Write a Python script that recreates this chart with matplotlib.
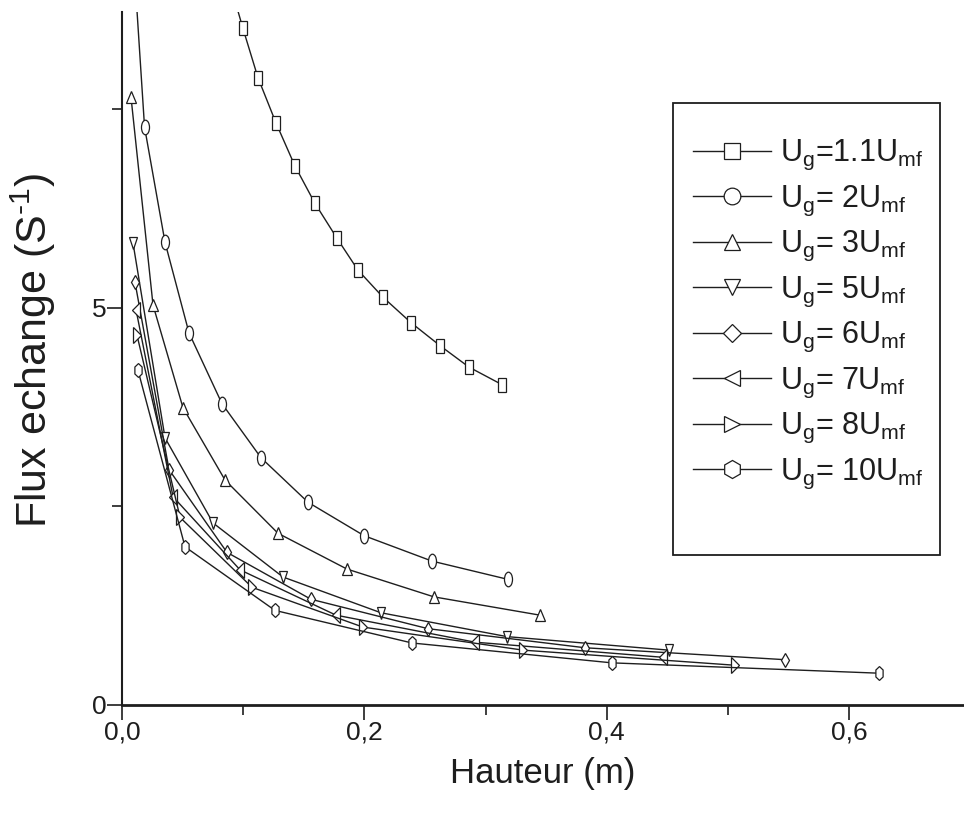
import matplotlib
matplotlib.use("Agg")
import matplotlib.pyplot as plt
from matplotlib.markers import MarkerStyle
from matplotlib.transforms import Affine2D
from matplotlib.lines import Line2D
from matplotlib.patches import Rectangle
from matplotlib.ticker import MultipleLocator, FuncFormatter

plt.rcParams['font.family'] = ['Liberation Sans', 'DejaVu Sans']
plt.rcParams['mathtext.fontset'] = 'custom'
plt.rcParams['mathtext.rm'] = 'Liberation Sans'
plt.rcParams['mathtext.it'] = 'Liberation Sans'
plt.rcParams['mathtext.bf'] = 'Liberation Sans'

# ---- data (height in m, exchange flux in s^-1) ----
h_1p1 = [0.0866, 0.0996, 0.1122, 0.1271, 0.1427, 0.1592, 0.1774, 0.1947, 0.2153, 0.2384, 0.2624, 0.2863, 0.3135]
f_1p1 = [9.21, 8.52, 7.89, 7.32, 6.78, 6.31, 5.87, 5.47, 5.13, 4.81, 4.52, 4.25, 4.03]

h_2 = [0.0091, 0.0186, 0.0355, 0.0553, 0.0825, 0.1147, 0.1535, 0.1997, 0.2558, 0.3185]
f_2 = [9.50, 7.27, 5.82, 4.68, 3.79, 3.11, 2.55, 2.13, 1.81, 1.58]

h_3 = [0.0074, 0.0256, 0.0503, 0.0850, 0.1287, 0.1856, 0.2574, 0.3449]
f_3 = [7.65, 5.03, 3.74, 2.83, 2.16, 1.71, 1.36, 1.13]

h_5 = [0.0091, 0.0355, 0.0751, 0.1328, 0.2137, 0.3177, 0.4513]
f_5 = [5.81, 3.36, 2.29, 1.61, 1.16, 0.86, 0.69]

h_6 = [0.0107, 0.0388, 0.0866, 0.1559, 0.2525, 0.3820, 0.5470]
f_6 = [5.32, 2.96, 1.92, 1.33, 0.96, 0.72, 0.57]

h_7 = [0.0116, 0.0421, 0.0974, 0.1766, 0.2913, 0.4464]
f_7 = [4.97, 2.62, 1.70, 1.13, 0.79, 0.60]

h_8 = [0.0124, 0.0479, 0.1073, 0.1988, 0.3309, 0.5058]
f_8 = [4.65, 2.36, 1.48, 0.98, 0.69, 0.50]

h_10 = [0.0132, 0.0520, 0.1262, 0.2393, 0.4043, 0.6246]
f_10 = [4.21, 1.99, 1.19, 0.78, 0.53, 0.40]

labels = [r'U$_{\mathrm{g}}$=1.1U$_{\mathrm{mf}}$',
          r'U$_{\mathrm{g}}$= 2U$_{\mathrm{mf}}$',
          r'U$_{\mathrm{g}}$= 3U$_{\mathrm{mf}}$',
          r'U$_{\mathrm{g}}$= 5U$_{\mathrm{mf}}$',
          r'U$_{\mathrm{g}}$= 6U$_{\mathrm{mf}}$',
          r'U$_{\mathrm{g}}$= 7U$_{\mathrm{mf}}$',
          r'U$_{\mathrm{g}}$= 8U$_{\mathrm{mf}}$',
          r'U$_{\mathrm{g}}$= 10U$_{\mathrm{mf}}$']

series = [(h_1p1, f_1p1), (h_2, f_2), (h_3, f_3), (h_5, f_5),
          (h_6, f_6), (h_7, f_7), (h_8, f_8), (h_10, f_10)]

# marker styles: (marker, x-squeeze, markersize)
mstyles = [('s', 0.55, 9.5), ('o', 0.55, 10.5), ('^', 0.75, 9), ('v', 0.7, 9),
           ('D', 0.5, 7.5), ('<', 0.5, 11), ('>', 0.5, 11), ('h', 0.6, 10)]

ink = '#1e1e1e'

fig = plt.figure(figsize=(9.64, 8.16), dpi=100)
ax = fig.add_axes([122/964, 111/816, 842/964, 693/816])

for (hx, fy), (mk, sq, ms) in zip(series, mstyles):
    m = MarkerStyle(mk, transform=Affine2D().scale(sq, 1.0))
    ax.plot(hx, fy, color=ink, lw=1.0, marker=m, ms=ms, mfc='white',
            mec=ink, mew=0.9, clip_on=True)

ax.set_xlim(0, 842/1212)
ax.set_ylim(0, 693/79.5)

for s in ['top', 'right']:
    ax.spines[s].set_visible(False)
ax.spines['left'].set_linewidth(1.5)
ax.spines['bottom'].set_linewidth(2.0)
ax.spines['left'].set_color(ink)
ax.spines['bottom'].set_color(ink)

ax.xaxis.set_major_locator(MultipleLocator(0.2))
ax.xaxis.set_minor_locator(MultipleLocator(0.1))
ax.yaxis.set_major_locator(MultipleLocator(5))
ax.yaxis.set_minor_locator(MultipleLocator(2.5))
ax.xaxis.set_major_formatter(FuncFormatter(lambda v, p: f'{v:.1f}'.replace('.', ',')))
ax.yaxis.set_major_formatter(FuncFormatter(lambda v, p: f'{v:.0f}'))
ax.tick_params(which='major', direction='out', length=11, width=1.2, labelsize=19,
               color=ink, labelcolor=ink, pad=0)
ax.tick_params(which='minor', direction='out', length=7, width=1.2, color=ink)

ax.set_xlabel('Hauteur (m)', fontsize=25, color=ink)
ax.set_ylabel(r'Flux echange (S$^{\text{-}1}$)', fontsize=31, color=ink)
ax.xaxis.set_label_coords(0.5, -0.075)
ax.yaxis.set_label_coords(-0.076, 0.512)

# legend
handles = []
for (mk, sq, ms) in mstyles:
    lms = {'s': 12, 'o': 12, '^': 12, 'v': 12, 'D': 9, '<': 12, '>': 12, 'h': 13}[mk]
    handles.append(Line2D([], [], color=ink, lw=1.0, marker=mk, ms=lms,
                          mfc='white', mec=ink, mew=0.9))
leg = ax.legend(handles, labels, loc='upper left', bbox_to_anchor=(0.678, 0.818),
                frameon=False, fontsize=22, handlelength=2.55, handletextpad=0.3,
                labelspacing=0.37, borderpad=0, borderaxespad=0)
for t in leg.get_texts():
    t.set_color(ink)
ax.add_patch(Rectangle((0.654, 0.216), 0.317, 0.653, transform=ax.transAxes,
                       fill=False, ec=ink, lw=1.3, clip_on=False))

fig.savefig('out.png', dpi=100, facecolor='white')
